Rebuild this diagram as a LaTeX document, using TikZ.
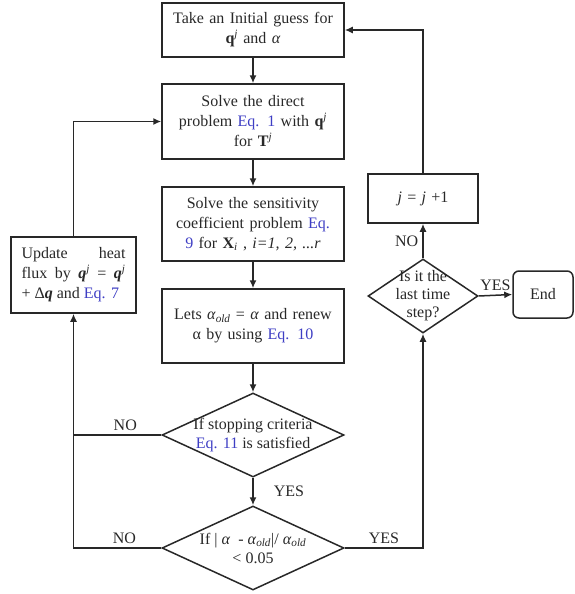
\documentclass[tikz,border=0pt]{standalone}
\usepackage{fontspec}
\setmainfont{Liberation Serif}
\usetikzlibrary{shapes.geometric,arrows.meta}
\definecolor{ink}{RGB}{40,40,40}
\definecolor{eqblue}{RGB}{62,62,196}
\newcommand{\eqref}[1]{\textcolor{eqblue}{#1}}
\newcommand{\qj}{\textbf{q}\textsuperscript{\textit{j}}}
\newcommand{\aold}{\textit{α}\textsubscript{\textit{old}}}
\tikzset{
  box/.style={draw=ink,line width=1.5pt,minimum width=182pt,text width=176pt,
    align=center,inner sep=0pt,text=ink,font=\fontsize{16}{20}\selectfont},
  decision/.style={draw=ink,line width=1.5pt,diamond,inner sep=0pt,
    minimum width=182pt,minimum height=84pt},
  dtext/.style={align=center,text=ink,font=\fontsize{16}{19}\selectfont},
  flow/.style={->,draw=ink,line width=1.5pt},
  answer/.style={inner sep=0pt,text=ink,font=\fontsize{16}{19}\selectfont}
}
\begin{document}
\begin{tikzpicture}[x=1pt,y=-1pt,>={Latex[length=8pt,width=7pt]}]
    \useasboundingbox (0,0) rectangle (575,594);

    \node [box,minimum height=54pt] (guess) at (253,30) {Take an Initial guess for\\\qj{} and \textit{α}};
    \node [box,minimum height=75pt] (direct) at (253,121.5) {Solve the direct\\problem \eqref{Eq. 1} with \qj\\for \textbf{T}\textsuperscript{\textit{j}}};
    \node [box,minimum height=74pt] (sens) at (253,224) {Solve the sensitivity\\coefficient problem \eqref{Eq.}\\\eqref{9} for \textbf{X}\textsubscript{\textit{i}} , \textit{i=1, 2, ...r}};
    \node [box,minimum height=74pt] (renew) at (253,326) {Lets \aold{} = \textit{α} and renew\\α by using \eqref{Eq. 10}};
    \node [decision,label={[dtext]center:If stopping criteria\\\eqref{Eq. 11} is satisfied}] (stop) at (253,435) {};
    \node [decision,label={[dtext]center:If | \textit{α}\enspace- \aold|/ \aold\\< 0.05}] (conv) at (253,548) {};
    \node [box,minimum width=125pt,minimum height=76pt,text width=104pt,align=justify] (update) at (73.5,275)
        {Update heat\linebreak flux by \textbf{\textit{q}}\textsuperscript{\textit{j}} = \textbf{\textit{q}}\textsuperscript{\textit{j}}\linebreak + Δ\textbf{\textit{q}} and \eqref{Eq. 7}};
    \node [box,minimum width=110pt,minimum height=49pt,text width=100pt] (next) at (423,198.5) {\textit{j} = \textit{j} +1};
    \node [decision,minimum width=110pt,minimum height=74pt,label={[dtext,font=\fontsize{16}{18}\selectfont]center:Is it the\\last time\\step?}] (last) at (423,296) {};
    \node [box,rounded corners=6pt,minimum width=60pt,minimum height=47pt,text width=56pt] (finish) at (543,294.5) {End};

    \draw [flow] (guess) -- (direct);
    \draw [flow] (direct) -- (sens);
    \draw [flow] (sens) -- (renew);
    \draw [flow] (renew) -- (stop);
    \draw [flow] (stop) -- node[answer,right=20pt] (yes1) {YES} (conv);
    \draw [draw=ink,line width=1.5pt] (stop.west) -- node[answer,pos=.41,above=4pt] (no1) {NO} (stop.west -| update.south);
    \draw [flow] (conv.west) -| node[answer,pos=.21,above=4pt] (no2) {NO} (update.south);
    \draw [flow] (update.north) |- (direct.west);
    \draw [flow] (conv.east) -| node[answer,pos=.25,above=4pt] (yes2) {YES} (last.south);
    \draw [flow] (last.north) -- node[answer,left=4pt] (no3) {NO} (next.south);
    \draw [flow] (next.north) |- (guess.east);
    \draw [flow] (last.east) -- node[answer,above=4pt] (yes3) {YES} (finish.west);
\end{tikzpicture}
\end{document}
